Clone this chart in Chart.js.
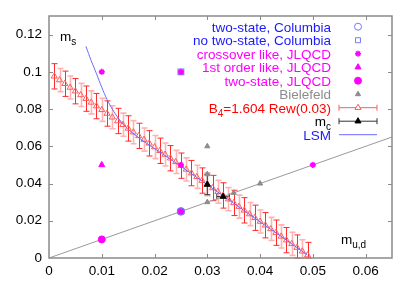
<!DOCTYPE html>
<html>
<head>
<meta charset="utf-8">
<script src="https://cdn.jsdelivr.net/npm/chart.js@4.4.1/dist/chart.umd.min.js"></script>
<style>
  html, body { margin: 0; padding: 0; background: #fff; }
  canvas { display: block; }
</style>
</head>
<body>
<canvas id="chart" width="409" height="286"></canvas>
<script>
const FONT = "'Liberation Sans', Arial, sans-serif";

// B4 = 1.604 reweighting band (triangles with error bars)
const bandX = [0.001,0.002,0.003,0.004,0.005,0.006,0.007,0.008,0.009,0.010,
               0.011,0.012,0.013,0.014,0.015,0.016,0.017,0.018,0.019,0.020,
               0.021,0.022,0.023,0.024,0.025,0.026,0.027,0.028,0.029,0.030,
               0.031,0.032,0.033,0.034,0.035,0.036,0.037,0.038,0.039,0.040,
               0.041,0.042,0.043,0.044,0.045,0.046,0.047,0.048,0.049];
const bandY = [0.0976,0.0956,0.0936,0.0916,0.0896,0.0876,0.0856,0.0836,0.0816,0.0796,
               0.0776,0.0756,0.0736,0.0716,0.0696,0.0676,0.0656,0.0636,0.0616,0.0596,
               0.0576,0.0556,0.0536,0.0516,0.0496,0.0476,0.0456,0.0436,0.0416,0.0396,
               0.0376,0.0356,0.0336,0.0316,0.0296,0.0276,0.0256,0.0236,0.0216,0.0196,
               0.0176,0.0156,0.0136,0.0116,0.0096,0.0076,0.0056,0.0036,0.0016];
const bandErr = [0.0068,0.0062,0.0068,0.0062,0.0068,0.0062,0.0068,0.0062,0.0068,0.0062,
                 0.0068,0.0062,0.0068,0.0062,0.0068,0.0062,0.0068,0.0062,0.0068,0.0062,
                 0.0068,0.0062,0.0068,0.0062,0.0068,0.0062,0.0068,0.0062,0.0068,0.0062,
                 0.0068,0.0062,0.0068,0.0062,0.0068,0.0062,0.0068,0.0062,0.0068,0.0062,
                 0.0068,0.0062,0.0068,0.0062,0.0068,0.0062,0.0068,0.0062,0.0068];

// LSM curve
const lsmX = [0.0070,0.0080,0.0090,0.0100,0.0110,0.0120,0.0130,0.0145,0.0160,0.0180,0.0200,0.0250,0.0300,0.0350,0.0400,0.0450,0.0490];
const lsmY = [0.1137,0.1060,0.0990,0.0917,0.0852,0.0800,0.0757,0.0705,0.0668,0.0626,0.0588,0.0492,0.0393,0.0294,0.0194,0.0096,0.0015];

// m_s = m_ud line
const diagX = [0, 0.065];
const diagY = [0, 0.065];

// simulation points
const colTwoX = [0.025];              const colTwoY = [0.025];
const colNoX = [0.025];               const colNoY = [0.1];
const jlCrossX = [0.01,0.025,0.025,0.05]; const jlCrossY = [0.1,0.1,0.05,0.05];
const jlFirstX = [0.01];              const jlFirstY = [0.05];
const jlTwoX = [0.01,0.025];          const jlTwoY = [0.01,0.025];
const bieX = [0.03,0.03,0.03,0.035,0.04]; const bieY = [0.06,0.045,0.03,0.035,0.04];
const mcX = [0.03,0.033];   const mcY = [0.0395,0.033];
const mcXErr = [0,0.0012];  const mcYErr = [0.0055,0];

const BLUE_TXT = '#1a1aff', BLUE_SYM = '#7878ff', MAG = '#ff00ff', GRAY = '#8c8c8c', RED = '#ff2a2a';

function pts(xs, ys) { return xs.map((x, i) => ({ x: x, y: ys[i] })); }

function fmt(v) { return String(+v.toFixed(3)); }

// legend rows: text pieces [string, isSub], colour, symbol
const legendRows = [
  { parts: [['two-state, Columbia', 0]], color: BLUE_TXT, sym: 'colTwo' },
  { parts: [['no two-state, Columbia', 0]], color: BLUE_TXT, sym: 'colNo' },
  { parts: [['crossover like, JLQCD', 0]], color: MAG, sym: 'jlCross' },
  { parts: [['1st order like, JLQCD', 0]], color: MAG, sym: 'jlFirst' },
  { parts: [['two-state, JLQCD', 0]], color: MAG, sym: 'jlTwo' },
  { parts: [['Bielefeld', 0]], color: GRAY, sym: 'bie' },
  { parts: [['B', 0], ['4', 1], ['=1.604 Rew(0.03)', 0]], color: '#ff0000', sym: 'band' },
  { parts: [['m', 0], ['c', 1]], color: '#000', sym: 'mc' },
  { parts: [['LSM', 0]], color: BLUE_TXT, sym: 'lsm' }
];

function drawRich(ctx, parts, x, base, align, size) {
  const main = size + 'px ' + FONT, sub = Math.round(size * 0.75) + 'px ' + FONT;
  let w = 0;
  parts.forEach(p => { ctx.font = p[1] ? sub : main; w += ctx.measureText(p[0]).width; });
  let cx = align === 'right' ? x - w : x;
  ctx.textAlign = 'left';
  ctx.textBaseline = 'alphabetic';
  parts.forEach(p => {
    ctx.font = p[1] ? sub : main;
    ctx.fillText(p[0], cx, p[1] ? base + 4 : base);
    cx += ctx.measureText(p[0]).width;
  });
}

function vBar(ctx, x, y1, y2, cap) {
  ctx.beginPath();
  ctx.moveTo(x, y1); ctx.lineTo(x, y2);
  ctx.moveTo(x - cap, y1); ctx.lineTo(x + cap, y1);
  ctx.moveTo(x - cap, y2); ctx.lineTo(x + cap, y2);
  ctx.stroke();
}
function hBar(ctx, y, x1, x2, cap) {
  ctx.beginPath();
  ctx.moveTo(x1, y); ctx.lineTo(x2, y);
  ctx.moveTo(x1, y - cap); ctx.lineTo(x1, y + cap);
  ctx.moveTo(x2, y - cap); ctx.lineTo(x2, y + cap);
  ctx.stroke();
}

function sym(ctx, style, radius, stroke, fill, bw, x, y) {
  ctx.save();
  ctx.strokeStyle = stroke;
  ctx.fillStyle = fill;
  ctx.lineWidth = bw;
  Chart.helpers.drawPoint(ctx, { pointStyle: style, radius: radius, borderWidth: bw, rotation: 0 }, x, y);
  ctx.restore();
}

const extras = {
  id: 'extras',
  beforeDatasetsDraw(chart) {
    const ctx = chart.ctx, sx = chart.scales.x, sy = chart.scales.y;
    ctx.save();
    // band error bars, alternating dark / light
    bandX.forEach((v, i) => {
      const px = Math.round(sx.getPixelForValue(v)) + 0.5;
      const t = sy.getPixelForValue(bandY[i] + bandErr[i]);
      const b = sy.getPixelForValue(bandY[i] - bandErr[i]);
      if (i % 2 === 0) { ctx.strokeStyle = RED; ctx.lineWidth = 1; }
      else { ctx.strokeStyle = '#ffb2b2'; ctx.lineWidth = 1.6; }
      vBar(ctx, px, t, Math.min(b, chart.chartArea.bottom), 3);
    });
    // m_c error bars
    ctx.strokeStyle = '#333';
    ctx.lineWidth = 1;
    mcX.forEach((v, i) => {
      const px = sx.getPixelForValue(v), py = sy.getPixelForValue(mcY[i]);
      if (mcYErr[i]) vBar(ctx, px, sy.getPixelForValue(mcY[i] + mcYErr[i]), sy.getPixelForValue(mcY[i] - mcYErr[i]), 3);
      if (mcXErr[i]) hBar(ctx, py, sx.getPixelForValue(v - mcXErr[i]), sx.getPixelForValue(v + mcXErr[i]), 3);
    });
    ctx.restore();
  },
  afterDraw(chart) {
    const ctx = chart.ctx, a = chart.chartArea, sx = chart.scales.x, sy = chart.scales.y;
    ctx.save();
    // frame and inward ticks on all four sides
    ctx.strokeStyle = '#8a8a8a';
    ctx.lineWidth = 1.5;
    ctx.strokeRect(a.left, a.top, a.right - a.left, a.bottom - a.top);
    ctx.lineWidth = 1;
    ctx.beginPath();
    sx.ticks.forEach(t => {
      const px = Math.round(sx.getPixelForValue(t.value)) + 0.5;
      if (px <= a.left + 1 || px >= a.right - 1) return;
      ctx.moveTo(px, a.bottom); ctx.lineTo(px, a.bottom - 4);
      ctx.moveTo(px, a.top); ctx.lineTo(px, a.top + 4);
    });
    sy.ticks.forEach(t => {
      const py = Math.round(sy.getPixelForValue(t.value)) + 0.5;
      if (py >= a.bottom - 1 || py <= a.top + 1) return;
      ctx.moveTo(a.left, py); ctx.lineTo(a.left + 4, py);
      ctx.moveTo(a.right, py); ctx.lineTo(a.right - 4, py);
    });
    ctx.stroke();

    // axis names
    ctx.fillStyle = '#000';
    drawRich(ctx, [['m', 0], ['s', 1]], 60, 41, 'left', 13.5);
    drawRich(ctx, [['m', 0], ['u,d', 1]], 341, 244, 'left', 13.5);

    // legend
    const textRight = 331, symX = 358;
    legendRows.forEach((r, k) => {
      const base = 31.7 + 13.5 * k;
      const cy = 26.7 + 13.5 * k;
      ctx.fillStyle = r.color;
      drawRich(ctx, r.parts, textRight, base, 'right', 13.5);
      switch (r.sym) {
        case 'colTwo': sym(ctx, 'circle', 3.5, BLUE_SYM, 'rgba(0,0,0,0)', 1, symX, cy); break;
        case 'colNo': sym(ctx, 'rect', 3.5, BLUE_SYM, 'rgba(0,0,0,0)', 1, symX, cy); break;
        case 'jlCross': sym(ctx, 'star', 3, MAG, MAG, 1.5, symX, cy); break;
        case 'jlFirst': sym(ctx, 'triangle', 3.5, MAG, MAG, 1, symX, cy); break;
        case 'jlTwo': sym(ctx, 'circle', 3.5, MAG, MAG, 1, symX, cy); break;
        case 'bie': sym(ctx, 'triangle', 3, GRAY, GRAY, 1, symX, cy); break;
        case 'band':
          ctx.strokeStyle = '#ff5c5c'; ctx.lineWidth = 1;
          hBar(ctx, cy, 339, 377, 3);
          sym(ctx, 'triangle', 3.5, '#ff5c5c', '#fff', 1, symX, cy); break;
        case 'mc':
          ctx.strokeStyle = '#333'; ctx.lineWidth = 1;
          hBar(ctx, cy, 339, 377, 3);
          sym(ctx, 'triangle', 3.5, '#000', '#000', 1, symX, cy); break;
        case 'lsm':
          ctx.strokeStyle = '#6a6aff'; ctx.lineWidth = 1;
          ctx.beginPath(); ctx.moveTo(339, cy); ctx.lineTo(377, cy); ctx.stroke(); break;
      }
    });
    ctx.restore();
  }
};

new Chart(document.getElementById('chart'), {
  type: 'scatter',
  data: {
    datasets: [
      { data: pts(diagX, diagY), showLine: true, borderColor: '#9a9a9a', borderWidth: 1, pointRadius: 0, order: 12 },
      { data: pts(bandX, bandY), pointStyle: 'triangle', pointRadius: 3.5, borderColor: '#ff5c5c',
        backgroundColor: 'rgba(0,0,0,0)', pointBorderWidth: 1, order: 11 },
      { data: pts(lsmX, lsmY), showLine: true, tension: 0.4, borderColor: '#6a6aff', borderWidth: 1, pointRadius: 0, order: 10 },
      { data: pts(bieX, bieY), pointStyle: 'triangle', pointRadius: 3, borderColor: GRAY, backgroundColor: GRAY, order: 9 },
      { data: pts(mcX, mcY), pointStyle: 'triangle', pointRadius: 3.5, borderColor: '#000', backgroundColor: '#000', order: 8 },
      { data: pts(jlTwoX, jlTwoY), pointStyle: 'circle', pointRadius: 3.5, borderColor: MAG, backgroundColor: MAG, order: 7 },
      { data: pts(colTwoX, colTwoY), pointStyle: 'circle', pointRadius: 3.5, borderColor: BLUE_SYM, backgroundColor: 'rgba(0,0,0,0)', pointBorderWidth: 1.2, order: 6 },
      { data: pts(colNoX, colNoY), pointStyle: 'rect', pointRadius: 4, borderColor: BLUE_SYM, backgroundColor: 'rgba(0,0,0,0)', pointBorderWidth: 1.2, order: 5 },
      { data: pts(jlFirstX, jlFirstY), pointStyle: 'triangle', pointRadius: 3.5, borderColor: MAG, backgroundColor: MAG, order: 4 },
      { data: pts(jlCrossX, jlCrossY), pointStyle: 'star', pointRadius: 3, borderColor: MAG, backgroundColor: MAG, pointBorderWidth: 1.6, order: 3 }
    ]
  },
  options: {
    responsive: false,
    devicePixelRatio: 1,
    animation: false,
    layout: { padding: { top: 16, right: 17, left: 0, bottom: 0 } },
    plugins: { legend: { display: false }, tooltip: { enabled: false } },
    scales: {
      x: {
        type: 'linear', min: 0, max: 0.065,
        grid: { display: false, drawTicks: false },
        border: { display: false },
        ticks: { stepSize: 0.01, includeBounds: false, padding: 5, maxRotation: 0, color: '#000',
                 font: { family: FONT, size: 13.5 }, callback: fmt },
        afterFit: s => { s.height = 28; }
      },
      y: {
        type: 'linear', min: 0, max: 0.13,
        grid: { display: false, drawTicks: false },
        border: { display: false },
        ticks: { stepSize: 0.02, includeBounds: false, padding: 7, color: '#000',
                 font: { family: FONT, size: 13.5 }, callback: fmt },
        afterFit: s => { s.width = 49; }
      }
    }
  },
  plugins: [extras]
});
</script>
</body>
</html>
